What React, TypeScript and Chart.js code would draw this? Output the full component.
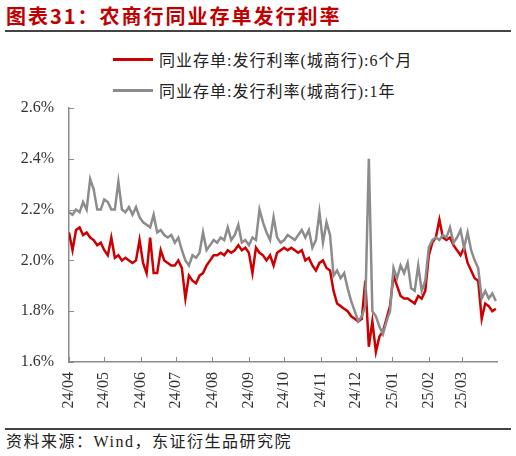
import { useEffect, useRef } from "react"
import { Chart, registerables } from "chart.js"

Chart.register(...registerables)

// month tick labels (yy/mm) on the x axis
const monthLabels = ["24/04", "24/05", "24/06", "24/07", "24/08", "24/09", "24/10", "24/11", "24/12", "25/01", "25/02", "25/03"]
const startDate = new Date(2024, 3, 1)
const endDay = 364

// observation days, counted from 2024-04-01 (every 3rd day)
const obsDays = Array.from({ length: 122 }, (_, i) => i * 3)

// 同业存单:发行利率(城商行):6个月
const rate6m = [
  2.11, 2.04, 2.12, 2.13, 2.10, 2.11, 2.09, 2.08, 2.06, 2.07,
  2.04, 2.02, 2.09, 2.01, 2.02, 2.00, 2.01, 2.00, 1.99, 2.00,
  2.08, 1.99, 1.95, 2.09, 1.95, 1.95, 2.04, 2.00, 1.99, 1.98,
  1.98, 2.00, 1.97, 1.85, 1.94, 1.92, 1.91, 1.94, 1.95, 1.98,
  2.00, 2.02, 2.02, 2.03, 2.02, 2.04, 2.03, 2.04, 2.06, 2.04,
  2.05, 2.03, 1.95, 2.05, 2.03, 2.02, 2.00, 2.02, 1.98, 2.03,
  2.04, 2.05, 2.04, 2.05, 2.04, 2.03, 2.04, 2.00, 2.01, 1.98,
  1.96, 1.99, 2.00, 1.97, 1.96, 1.88, 1.83, 1.82, 1.81, 1.80,
  1.78, 1.77, 1.76, 1.77, 1.92, 1.66, 1.76, 1.64, 1.70, 1.72,
  1.77, 1.82, 1.94, 1.90, 1.86, 1.85, 1.85, 1.84, 1.83, 1.86,
  1.85, 1.88, 2.02, 2.07, 2.09, 2.16, 2.09, 2.08, 2.09, 2.06,
  2.04, 2.02, 2.05, 1.99, 1.96, 1.93, 1.92, 1.77, 1.83, 1.82,
  1.80, 1.81,
]

// 同业存单:发行利率(城商行):1年
const rate1y = [
  2.19, 2.18, 2.20, 2.19, 2.23, 2.20, 2.32, 2.28, 2.20, 2.20,
  2.24, 2.23, 2.20, 2.20, 2.31, 2.20, 2.19, 2.21, 2.18, 2.21,
  2.17, 2.15, 2.14, 2.13, 2.18, 2.11, 2.12, 2.10, 2.09, 2.10,
  2.07, 2.09, 2.04, 2.00, 1.98, 2.02, 2.01, 2.03, 2.11, 2.04,
  2.06, 2.08, 2.07, 2.09, 2.08, 2.13, 2.08, 2.10, 2.14, 2.07,
  2.08, 2.06, 2.09, 2.08, 2.20, 2.15, 2.11, 2.08, 2.17, 2.09,
  2.07, 2.08, 2.10, 2.09, 2.08, 2.10, 2.12, 2.09, 2.12, 2.05,
  2.08, 2.19, 2.07, 2.15, 2.10, 1.94, 1.96, 1.93, 1.95, 1.89,
  1.84, 1.80, 1.76, 1.78, 1.82, 2.40, 1.80, 1.78, 1.74, 1.71,
  1.76, 1.80, 1.97, 1.93, 1.98, 1.95, 1.99, 1.89, 1.88, 1.98,
  1.88, 1.92, 2.05, 2.08, 2.09, 2.08, 2.10, 2.09, 2.13, 2.07,
  2.09, 2.12, 2.05, 2.11, 2.04, 2.00, 1.97, 1.85, 1.88, 1.85,
  1.87, 1.84,
]

const seriesNames = ["同业存单:发行利率(城商行):6个月", "同业存单:发行利率(城商行):1年"]
const seriesColors = ["#cc0000", "#8c8c8c"]

const monthDays = monthLabels.map((l) => {
  const [yy, mm] = l.split("/").map(Number)
  return Math.round((new Date(2000 + yy, mm - 1, 1).getTime() - startDate.getTime()) / 86400000)
})

const serif = "'Liberation Serif', 'Times New Roman', 'Noto Sans CJK SC', serif"

// small tick marks drawn inside the plot, at the axes' own tick positions
const innerTicks = {
  id: "innerTicks",
  afterDraw(chart: any) {
    const { ctx, chartArea, scales } = chart
    ctx.save()
    ctx.strokeStyle = "#8c8c8c"
    ctx.lineWidth = 1
    ctx.beginPath()
    scales.y.ticks.forEach((t: any) => {
      const y = Math.round(scales.y.getPixelForValue(t.value)) + 0.5
      ctx.moveTo(chartArea.left, y)
      ctx.lineTo(chartArea.left + 5, y)
    })
    scales.x.ticks.forEach((t: any) => {
      const x = Math.round(scales.x.getPixelForValue(t.value)) + 0.5
      ctx.moveTo(x, chartArea.bottom)
      ctx.lineTo(x, chartArea.bottom - 5)
    })
    ctx.stroke()
    ctx.restore()
  },
}

export default function App() {
  const canvasRef = useRef<HTMLCanvasElement>(null)

  useEffect(() => {
    if (!canvasRef.current) return
    const mk = (vals: number[]) => obsDays.map((d, i) => ({ x: d, y: vals[i] }))

    const chart = new Chart(canvasRef.current, {
      type: "line",
      data: {
        datasets: [
          { label: seriesNames[1], data: mk(rate1y), borderColor: seriesColors[1], borderWidth: 2.5, pointRadius: 0, tension: 0 },
          { label: seriesNames[0], data: mk(rate6m), borderColor: seriesColors[0], borderWidth: 2.5, pointRadius: 0, tension: 0 },
        ],
      },
      options: {
        animation: false,
        responsive: false,
        maintainAspectRatio: false,
        layout: { padding: { top: 8, right: 19, left: 0, bottom: 0 } },
        plugins: { legend: { display: false }, tooltip: { enabled: false } },
        scales: {
          x: {
            type: "linear",
            min: 0,
            max: endDay,
            afterBuildTicks: (s: any) => {
              s.ticks = monthDays.map((v) => ({ value: v }))
            },
            afterFit: (s: any) => {
              s.height = 63
              s.paddingLeft = 0
              s.paddingRight = 0
            },
            grid: { drawOnChartArea: false, drawTicks: false },
            border: { display: true, color: "#8c8c8c", width: 1.5 },
            ticks: {
              autoSkip: false,
              minRotation: 90,
              maxRotation: 90,
              padding: 10,
              color: "#333",
              font: { family: serif, size: 16 },
              callback: (v: any) => monthLabels[monthDays.indexOf(Number(v))] ?? "",
            },
          },
          y: {
            min: 1.6,
            max: 2.6,
            afterFit: (s: any) => {
              s.width = 69
              s.paddingTop = 0
              s.paddingBottom = 0
            },
            grid: { drawOnChartArea: false, drawTicks: false },
            border: { display: true, color: "#8c8c8c", width: 1.5 },
            ticks: {
              stepSize: 0.2,
              padding: 15,
              color: "#333",
              font: { family: serif, size: 16 },
              callback: (v: any) => Number(v).toFixed(1) + "%",
            },
          },
        },
      },
      plugins: [innerTicks],
    })

    return () => chart.destroy()
  }, [])

  return (
    <div style={{ position: "absolute", left: 0, top: 0, width: 516, height: 456, background: "#fff", fontFamily: serif }}>
      {/* title */}
      <div style={{ position: "absolute", left: 6, top: 4, fontSize: 20, fontWeight: 700, letterSpacing: 2, color: "#c00000", fontFamily: "'Noto Sans CJK SC', sans-serif", lineHeight: "24px", whiteSpace: "nowrap" }}>
        图表31：农商行同业存单发行利率
      </div>
      <div style={{ position: "absolute", left: 5, top: 30, width: 506, height: 1.5, background: "#444" }} />

      {/* legend */}
      {seriesNames.map((name, i) => (
        <div key={name} style={{ position: "absolute", left: 113, top: 48 + i * 31, height: 22, display: "flex", alignItems: "center", whiteSpace: "nowrap" }}>
          <div style={{ width: 40, height: 3, background: seriesColors[i] }} />
          <span style={{ marginLeft: 6, fontSize: 16, letterSpacing: 1, color: "#222" }}>{name}</span>
        </div>
      ))}

      <canvas ref={canvasRef} width={516} height={325} style={{ position: "absolute", left: 0, top: 100, width: 516, height: 325 }} />

      {/* source */}
      <div style={{ position: "absolute", left: 5, top: 428, width: 506, height: 1.5, background: "#444" }} />
      <div style={{ position: "absolute", left: 6, top: 431, fontSize: 16, letterSpacing: 1.5, color: "#222", lineHeight: "22px", whiteSpace: "nowrap" }}>
        资料来源：Wind，东证衍生品研究院
      </div>
    </div>
  )
}
